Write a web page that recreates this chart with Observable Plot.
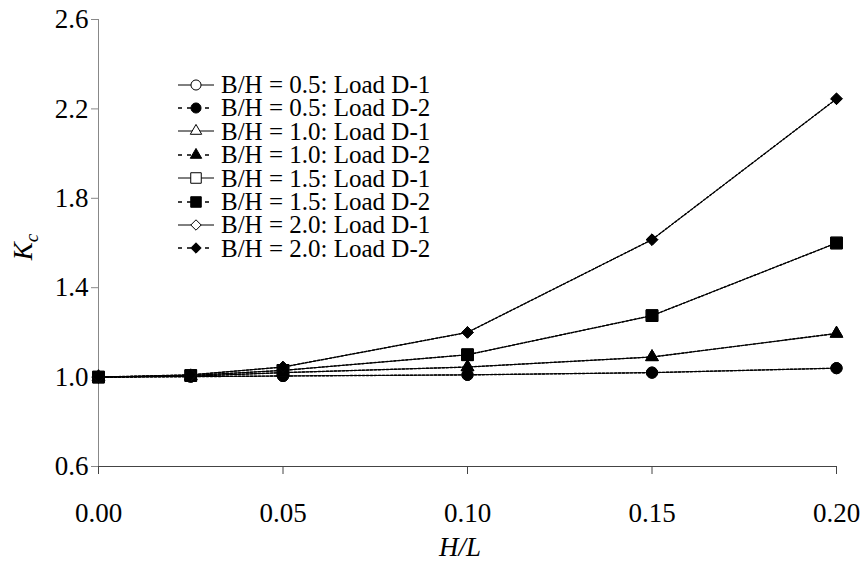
<!DOCTYPE html>
<html>
<head>
<meta charset="utf-8">
<script src="https://cdn.jsdelivr.net/npm/d3@7"></script>
<script src="https://cdn.jsdelivr.net/npm/@observablehq/plot@0.6"></script>
<style>
  html, body { margin: 0; padding: 0; background: #fff; }
  #chart { position: relative; width: 866px; height: 563px; font-family: "Liberation Serif", Tinos, "Noto Serif", "DejaVu Serif", "Nimbus Roman", "FreeSerif", "Times New Roman", Times, serif; }
  #chart svg text { font-family: inherit; }
  #legend { position: absolute; left: 178px; top: 73px; font-size: 25px; color: #000; }
  .row { display: flex; align-items: center; height: 23.4px; white-space: nowrap; }
  .row svg { flex: none; margin-right: 7px; overflow: visible; }
  .row span { display: block; height: 23.4px; line-height: 23.4px; }
</style>
</head>
<body>
<div id="chart"></div>
<script>
// Relative depth H/L at which the coefficient was computed
const hl = [0, 0.025, 0.05, 0.10, 0.15, 0.20];

// Kc for each width ratio B/H and load case
const kc05_D1 = [1.00, 1.002, 1.005, 1.010, 1.020, 1.040];
const kc05_D2 = [1.00, 1.002, 1.005, 1.010, 1.020, 1.040];
const kc10_D1 = [1.00, 1.004, 1.020, 1.045, 1.090, 1.195];
const kc10_D2 = [1.00, 1.004, 1.020, 1.045, 1.090, 1.195];
const kc15_D1 = [1.00, 1.007, 1.030, 1.100, 1.275, 1.600];
const kc15_D2 = [1.00, 1.007, 1.030, 1.100, 1.275, 1.600];
const kc20_D1 = [1.00, 1.010, 1.045, 1.200, 1.615, 2.245];
const kc20_D2 = [1.00, 1.010, 1.045, 1.200, 1.615, 2.245];

// Series labels and axis ticks
const seriesLabels = [
  "B/H = 0.5: Load D-1", "B/H = 0.5: Load D-2",
  "B/H = 1.0: Load D-1", "B/H = 1.0: Load D-2",
  "B/H = 1.5: Load D-1", "B/H = 1.5: Load D-2",
  "B/H = 2.0: Load D-1", "B/H = 2.0: Load D-2"
];
const xTicks = [0, 0.05, 0.10, 0.15, 0.20];
const yTicks = [0.6, 1.0, 1.4, 1.8, 2.2, 2.6];

// Marker shape / size per B/H; D-1 open, D-2 filled
const series = [
  {label: seriesLabels[0], values: kc05_D1, symbol: "circle",   r: 5.6, load: 1},
  {label: seriesLabels[1], values: kc05_D2, symbol: "circle",   r: 5.6, load: 2},
  {label: seriesLabels[2], values: kc10_D1, symbol: "triangle", r: 4.7, load: 1},
  {label: seriesLabels[3], values: kc10_D2, symbol: "triangle", r: 4.7, load: 2},
  {label: seriesLabels[4], values: kc15_D1, symbol: "square",   r: 6.6, load: 1},
  {label: seriesLabels[5], values: kc15_D2, symbol: "square",   r: 6.6, load: 2},
  {label: seriesLabels[6], values: kc20_D1, symbol: "diamond2", r: 5.2, load: 1},
  {label: seriesLabels[7], values: kc20_D2, symbol: "diamond2", r: 5.2, load: 2}
];

const rows = series.flatMap(s => hl.map((x, i) => ({x, y: s.values[i], label: s.label, load: s.load})));

const lineMarks = [
  Plot.line(rows.filter(d => d.load === 1), {x: "x", y: "y", z: "label", stroke: "#000", strokeWidth: 1}),
  Plot.line(rows.filter(d => d.load === 2), {x: "x", y: "y", z: "label", stroke: "#000", strokeWidth: 1.4, strokeDasharray: "2,2"})
];

const dotMarks = series.map(s => Plot.dot(rows.filter(d => d.label === s.label), {
  x: "x", y: "y", symbol: () => s.symbol, r: s.r,
  fill: s.load === 1 ? "#fff" : "#000", stroke: "#000", strokeWidth: 1
}));

const serif = "'Liberation Serif', Tinos, 'Noto Serif', 'DejaVu Serif', 'Nimbus Roman', FreeSerif, 'Times New Roman', Times, serif";

const chart = Plot.plot({
  width: 866,
  height: 563,
  marginLeft: 98,
  marginRight: 30,
  marginTop: 19,
  marginBottom: 97,
  style: {fontFamily: serif, fontSize: "27px", background: "#fff", color: "#000", overflow: "visible"},
  x: {domain: [0, 0.2]},
  y: {domain: [0.6, 2.6]},
  symbol: {type: "identity"},
  marks: [
    Plot.axisX({ticks: xTicks, tickFormat: d3.format(".2f"), tickSize: 8, tickPadding: 28, stroke: "#444", fill: "#000", label: null}),
    Plot.axisY({ticks: yTicks, tickFormat: d3.format(".1f"), tickSize: 7, tickPadding: 3, stroke: "#888", fill: "#000", label: null}),
    Plot.ruleX([0], {stroke: "#888"}),
    Plot.ruleY([0.6], {stroke: "#444"}),
    ...lineMarks,
    ...dotMarks
  ]
});

// Axis titles: italic H/L and K with subscript c
const svg = d3.select(chart);
svg.append("text")
  .attr("x", 460).attr("y", 556)
  .attr("text-anchor", "middle")
  .attr("font-style", "italic")
  .attr("font-size", 27)
  .text("H/L");
const yTitle = svg.append("text")
  .attr("transform", "translate(32,247) rotate(-90)")
  .attr("text-anchor", "middle")
  .attr("font-style", "italic")
  .attr("font-size", 27);
yTitle.append("tspan").text("K");
yTitle.append("tspan").attr("font-size", 19).attr("dy", 6).text("c");

const container = document.getElementById("chart");
container.appendChild(chart);

// Legend: line sample with marker, then label
const legend = d3.select(container).append("div").attr("id", "legend");
const shapes = {circle: d3.symbolCircle, triangle: d3.symbolTriangle, square: d3.symbolSquare, diamond2: d3.symbolDiamond2};
series.forEach(s => {
  const row = legend.append("div").attr("class", "row");
  const g = row.append("svg").attr("width", 36).attr("height", 20);
  g.append("line").attr("x1", 0).attr("x2", 36).attr("y1", 10).attr("y2", 10)
    .attr("stroke", "#000").attr("stroke-width", s.load === 1 ? 1 : 1.6)
    .attr("stroke-dasharray", s.load === 1 ? null : "4,5");
  const legendR = s.r * 0.9;
  g.append("path")
    .attr("transform", "translate(18,10)")
    .attr("d", d3.symbol(shapes[s.symbol], Math.PI * legendR * legendR)())
    .attr("fill", s.load === 1 ? "#fff" : "#000")
    .attr("stroke", "#000");
  row.append("span").text(s.label);
});
</script>
</body>
</html>
